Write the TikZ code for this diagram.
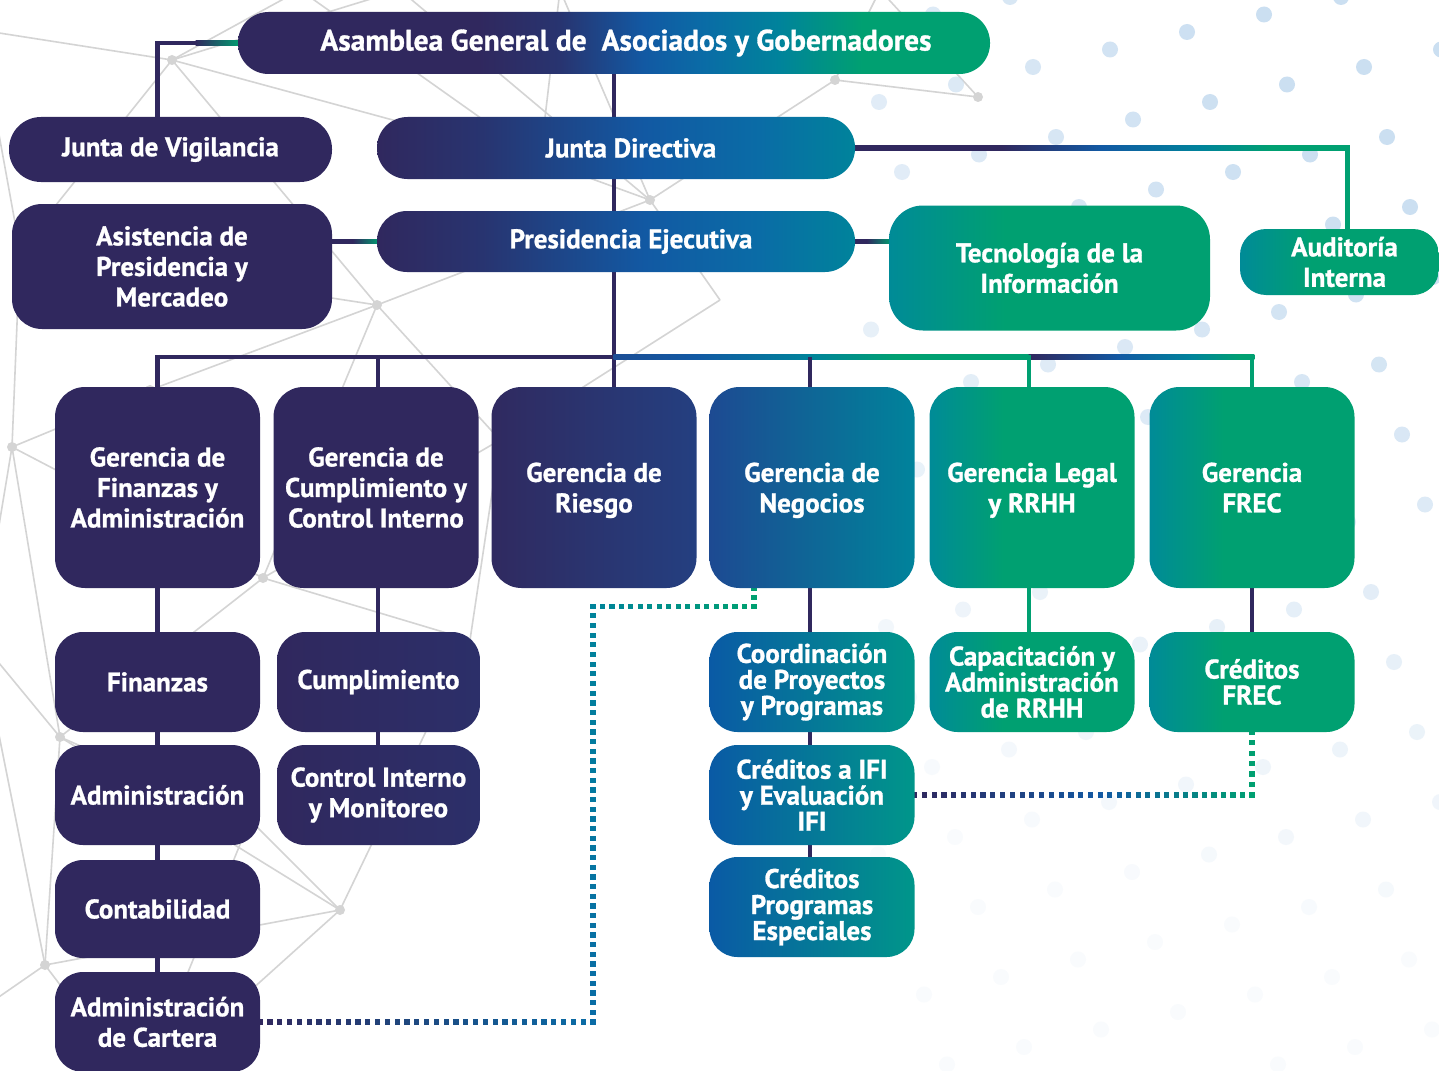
\documentclass[tikz,border=0pt]{standalone}
\usepackage{fontspec}
\setmainfont{PT Sans}[BoldFeatures={FakeBold=1}]
\usetikzlibrary{calc}
\definecolor{cP}{HTML}{30285E}
\definecolor{cP2}{HTML}{2C2F69}
\definecolor{cNv}{HTML}{283470}
\definecolor{cB}{HTML}{1259A3}
\definecolor{cB2}{HTML}{0A6CA6}
\definecolor{cBu}{HTML}{1C4E95}
\definecolor{cT}{HTML}{00839B}
\definecolor{cT2}{HTML}{008B97}
\definecolor{cG}{HTML}{00A071}
\definecolor{cNe}{HTML}{1D4A92}
\definecolor{cRi1}{HTML}{302A60}
\definecolor{cRi2}{HTML}{243F80}
\definecolor{cBT1}{HTML}{0A5AA5}
\definecolor{cBT2}{HTML}{00968A}
\definecolor{cNet}{HTML}{D4D4D4}
\definecolor{cDot}{HTML}{C6DCF0}
\pgfdeclarehorizontalshading{gAsam}{100bp}{color(0bp)=(cP); color(25bp)=(cP); color(41bp)=(cP); color(46.4bp)=(cNv); color(52bp)=(cB); color(56bp)=(cB2); color(61bp)=(cT); color(66.5bp)=(cG); color(100bp)=(cG)}
\pgfdeclarehorizontalshading{gJD}{100bp}{color(0bp)=(cP); color(25bp)=(cP); color(36bp)=(cNv); color(53bp)=(cB); color(65bp)=(cB2); color(75bp)=(cT); color(100bp)=(cT)}
\pgfdeclarehorizontalshading{gTG}{100bp}{color(0bp)=(cT2); color(25bp)=(cT2); color(43bp)=(cG); color(100bp)=(cG)}
\pgfdeclarehorizontalshading{gJA}{100bp}{color(0bp)=(cP); color(25bp)=(cP); color(40bp)=(cP); color(50bp)=(cB); color(60bp)=(cT); color(67bp)=(cG); color(100bp)=(cG)}
\pgfdeclarehorizontalshading{gBus2}{100bp}{color(0bp)=(cBu); color(25bp)=(cBu); color(35bp)=(cB); color(48.5bp)=(cT); color(59bp)=(cG); color(100bp)=(cG)}
\pgfdeclarehorizontalshading{gBus3}{100bp}{color(0bp)=(cP); color(25bp)=(cP); color(45bp)=(cB); color(61bp)=(cT); color(72bp)=(cG); color(100bp)=(cG)}
\pgfdeclarelayer{deco}
\pgfdeclarelayer{bg}
\pgfsetlayers{deco,bg,main}
\newcommand\dotseg[5]{%
  \foreach \k in {0,...,#5}{%
    \pgfmathsetmacro\dsT{\k/#5}%
    \pgfmathtruncatemacro\dsP{100*\k/#5}%
    \fill[#4!\dsP!#3] ($(#1)!\dsT!(#2)$) +(-2.6,-2.6) rectangle +(2.6,2.6);}}
\tikzset{
  box/.style={rectangle, text=white, align=center, inner sep=0pt, font=\bfseries\fontsize{27}{30.5}\selectfont},
  tight/.style={font=\bfseries\fontsize{27}{26}\selectfont},
  ger/.style={box, minimum width=205pt, minimum height=201pt, rounded corners=30pt},
  sub/.style={box, minimum width=205pt, minimum height=100pt, rounded corners=28pt},
  wire/.style={line width=4.5pt},
  net/.style={draw=cNet, line width=1.6pt},
}
\begin{document}
\begin{tikzpicture}[x=1pt,y=-1pt]
\useasboundingbox (0,0) rectangle (1439,1070);
\begin{pgfonlayer}{deco}
\fill[white] (0,0) rectangle (1439,1070);
% background network
\coordinate (nA) at (172,60);  \coordinate (nB) at (-20,30);  \coordinate (nC) at (300,-10);
\coordinate (nD) at (560,-10); \coordinate (nE) at (650,200); \coordinate (nF) at (835,80);
\coordinate (nG) at (978,97);  \coordinate (nH) at (377,305); \coordinate (nI) at (12,447);
\coordinate (nJ) at (263,578); \coordinate (nK) at (60,737);  \coordinate (nL) at (340,910);
\coordinate (nM) at (45,965);  \coordinate (nN) at (150,390); \coordinate (nO) at (-20,640);
\coordinate (nP) at (140,1090);\coordinate (nQ) at (20,250);  \coordinate (nR) at (500,440);
\coordinate (nS) at (720,300); \coordinate (nT) at (250,820); \coordinate (nU) at (-20,1010);
\coordinate (nV) at (470,640); \coordinate (nW) at (400,-10); \coordinate (nX) at (880,-10);
\coordinate (nY) at (540,160);
\foreach \a/\b in {A/B,A/C,A/W,A/Q,A/H,A/Y,W/E,D/E,D/Y,Y/E,E/F,F/G,F/X,X/G,E/H,E/S,H/J,H/R,S/R,Q/I,Q/H,I/N,N/H,I/J,J/K,I/K,K/O,I/O,K/L,K/T,T/L,L/M,M/P,K/M,J/V,V/L,R/J,R/V,O/M,U/M,T/P,L/P,B/Q,C/Y}
  \draw[net] (n\a) -- (n\b);
\foreach \a in {A,E,F,G,H,I,J,K,L,M,N,R,Y}
  \fill[cNet] (n\a) circle (5);
% background dots
\foreach \i in {-8,...,7}{\foreach \j in {-2,...,15}{%
  \pgfmathsetmacro\dx{1033+77*\i+23*\j}%
  \pgfmathsetmacro\dy{67-17.5*\i+70*\j}%
  \pgfmathsetmacro\vis{(\dx>870)*(\dx<1470)*(\dy>-20)*(\dy<1090)}%
  \pgfmathsetmacro\op{max(0.1,min(0.9,1.15-veclen(1439-\dx,\dy)/900))}%
  \ifdim\vis pt>0.5pt \fill[cDot, opacity=\op] (\dx,\dy) circle (8);\fi
}}
\end{pgfonlayer}

% top nodes
\node[box, font=\bfseries\fontsize{29.5}{31}\selectfont, shade, shading=gAsam, minimum width=752pt, minimum height=62pt, rounded corners=30.5pt] (asam) at (614,43) {\hspace*{24pt}Asamblea General de~~Asociados y Gobernadores};
\node[box, fill=cP, minimum width=323pt, minimum height=65pt, rounded corners=32pt] (jv) at (170.5,149.5) {Junta de Vigilancia};
\node[box, shade, shading=gJD, minimum width=478pt, minimum height=62pt, rounded corners=30.5pt] (jd) at (616,148) {\hspace*{30pt}Junta Directiva};
\node[box, fill=cP, minimum width=320pt, minimum height=125pt, rounded corners=30pt] (asis) at (172,266.5) {Asistencia de\\Presidencia y\\Mercadeo};
\node[box, shade, shading=gJD, minimum width=478pt, minimum height=61pt, rounded corners=30pt] (pe) at (616,241.5) {\hspace*{30pt}Presidencia Ejecutiva};
\node[box, shade, shading=gTG, minimum width=321pt, minimum height=125pt, rounded corners=34pt] (ti) at (1049.5,268) {Tecnología de la\\Información};
\node[box, shade, shading=gTG, minimum width=199pt, minimum height=66pt, rounded corners=26pt] (aud) at (1339.5,262) {\hspace*{10pt}Auditoría\\\hspace*{10pt}Interna};

% gerencias
\node[ger, fill=cP] (gfa) at (157.5,487.5) {Gerencia de\\Finanzas y\\Administración};
\node[ger, fill=cP] (gcu) at (376,487.5) {Gerencia de\\Cumplimiento y\\Control Interno};
\node[ger, left color=cRi1, right color=cRi2, text depth=-4pt] (gri) at (594,487.5) {Gerencia de\\Riesgo};
\node[ger, left color=cNe, middle color=cB, right color=cT, text depth=-4pt] (gne) at (812,487.5) {Gerencia de\\Negocios};
\node[ger, shade, shading=gTG, text depth=-4pt] (gle) at (1032,487.5) {Gerencia Legal\\y RRHH};
\node[ger, shade, shading=gTG, text depth=-4pt] (gfr) at (1252,487.5) {Gerencia\\FREC};

% sub units
\node[sub, fill=cP] (fin) at (157.5,682) {Finanzas};
\node[sub, fill=cP] (adm) at (157.5,795) {Administración};
\node[sub, fill=cP, minimum height=98pt] (con) at (157.5,909) {Contabilidad};
\node[sub, fill=cP] (cart) at (157.5,1022) {Administración\\de Cartera};
\node[sub, left color=cP, right color=cP2, minimum width=203pt] (cum) at (378.5,682) {Cumplimiento};
\node[sub, left color=cP, right color=cP2, minimum width=203pt] (cim) at (378.5,795) {Control Interno\\y Monitoreo};
\node[sub, tight, left color=cBT1, right color=cBT2] (coo) at (812,682) {Coordinación\\de Proyectos\\y Programas};
\node[sub, tight, left color=cBT1, right color=cBT2] (ifi) at (812,795) {Créditos a IFI\\y Evaluación\\IFI};
\node[sub, tight, left color=cBT1, right color=cBT2] (cpe) at (812,907) {Créditos\\Programas\\Especiales};
\node[sub, tight, shade, shading=gTG] (cap) at (1032,682) {Capacitación y\\Administración\\de RRHH};
\node[sub, tight, shade, shading=gTG] (cfr) at (1252,682) {Créditos\\FREC};

\begin{pgfonlayer}{bg}
% trunk
\draw[wire, cP] (asam.south) -- (asam.south |- gri.north);
% Asamblea - Junta de Vigilancia
\coordinate (jvtop) at ($(jv.north)+(-13,0)$);
\coordinate (jvc) at (jvtop |- asam.west);
\draw[wire, cP] (jvtop) -- (jvc) -- ($(jvc)+(40,0)$);
\shade[left color=cP, middle color=cB, right color=cG] ($(jvc)+(38,-2.25)$) rectangle ($(asam.west)+(3,2.25)$);
% Asistencia - Presidencia
\coordinate (pw) at (pe.west -| asis.east);
\draw[wire, cP] (pe.west) -- (pw);
\shade[left color=cP, middle color=cB, right color=cG] ($(pe.west)+(-24,-2.25)$) rectangle ($(pe.west)+(3,2.25)$);
% Presidencia - TI
\coordinate (pt) at (pe.east -| ti.west);
\draw[wire, cP] (pe.east) -- (pt);
\shade[left color=cP, middle color=cB, right color=cG] ($(pt)+(-22,-2.25)$) rectangle ($(pt)+(3,2.25)$);
% Junta Directiva - Auditoria
\coordinate (audtop) at ($(aud.north)+(8,0)$);
\coordinate (audc) at (audtop |- jd.east);
\shade[shading=gJA] ($(jd.east)+(-3,-2.25)$) rectangle ($(audc)+(2.25,2.25)$);
\draw[wire, cG] ($(audc)+(0,-2.25)$) -- (audtop);
% bus
\coordinate (busL) at ($(gfa.north)+(0,-30)$);
\coordinate (busR) at ($(gfr.north)+(0,-30)$);
\coordinate (busM) at (asam.south |- busL);
\coordinate (busN) at ($(gle.north |- busL)+(-3,0)$);
\fill[cP] ($(busL)+(-2.25,-2.25)$) rectangle ($(busM)+(0,2.25)$);
\shade[shading=gBus2] ($(busM)+(-0.5,-2.25)$) rectangle ($(busN)+(0,2.25)$);
\shade[shading=gBus3] ($(busN)+(-0.5,-2.25)$) rectangle ($(busR)+(2.25,2.25)$);
\draw[wire, cP] ($(busL)+(0,-2)$) -- (gfa.north);
\draw[wire, cP] ($(gcu.north |- busL)+(2,-2)$) -- ($(gcu.north)+(2,0)$);
\draw[wire, cP] ($(gne.north |- busL)+(-2,0)$) -- ($(gne.north)+(-2,0)$);
\draw[wire, cG] ($(busN)+(0,-2)$) -- (busN |- gle.north);
\draw[wire, cG] ($(busR)+(0,-2)$) -- (gfr.north);
% vertical chains
\draw[wire, cP] (gfa.south) -- (cart.north);
\draw[wire, cP] ($(gcu.south)+(2,0)$) -- ($(gcu.south |- cim.north)+(2,0)$);
\draw[wire, cP] ($(gne.south)+(-2,0)$) -- ($(cpe.north)+(-2,0)$);
\draw[wire, cG] ($(gle.south)+(-3,0)$) -- ($(cap.north)+(-3,0)$);
\draw[wire, cP] (gfr.south) -- (cfr.north);
% dotted: Negocios - Administracion de Cartera
\coordinate (d1) at ($(gne.south)+(-58,0)$);
\coordinate (d2) at ($(d1)+(0,18)$);
\coordinate (d3) at ($(d2)+(-161,0)$);
\coordinate (d4) at (d3 |- cart.east);
\dotseg{d1}{d2}{cG}{cG}{2}
\dotseg{d2}{d3}{cG}{cT}{17}
\dotseg{d3}{d4}{cT}{cB2}{43}
\dotseg{d4}{cart.east}{cB2}{cP}{34}
% dotted: Creditos a IFI - Creditos FREC
\coordinate (e3) at (ifi.east -| cfr.south);
\coordinate (e2) at ($(ifi.east)!0.55!(e3)$);
\dotseg{ifi.east}{e2}{cP}{cB}{19}
\dotseg{e2}{e3}{cB}{cG}{16}
\dotseg{e3}{cfr.south}{cG}{cG}{6}
\end{pgfonlayer}
\end{tikzpicture}
\end{document}
